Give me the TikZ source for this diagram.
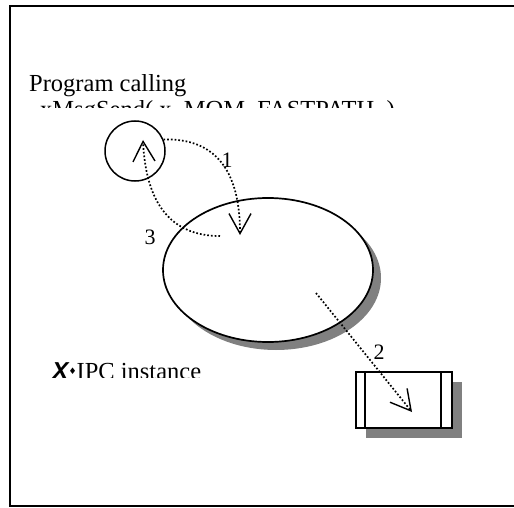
\documentclass[tikz,border=0pt]{standalone}
\usepackage{fontspec}
\setmainfont{Liberation Serif}
\newfontfamily\xsans{Liberation Sans}
\newfontfamily\symfont{DejaVu Sans}
\usetikzlibrary{arrows.meta,shapes.geometric,shadows}
\begin{document}
\begin{tikzpicture}[x=1pt,y=-1pt,
  outline/.style={draw=black,line width=1.7pt,fill=white},
  shade gray/.style={drop shadow={shadow xshift=#1,shadow yshift=-#1,fill=black!50,opacity=1}},
  flow/.style={line width=1.7pt,dash pattern=on 1.7pt off 2pt,
    -{Straight Barb[length=20pt,width=22pt,line width=1.4pt]}},
  numlabel/.style={inner sep=0pt,font=\fontsize{22}{24}\selectfont},
  bigtext/.style={anchor=base west,inner sep=0pt,font=\fontsize{24.5}{27}\selectfont}
]
\useasboundingbox (0,0) rectangle (514,508);
\clip (0,0) rectangle (514,508);

% outer frame, open on the right
\draw[line width=2.2pt] (520,6) -| (10,506) -- (520,506);

% caption of the calling program
\node[bigtext] (caption) at (29,92) {Program calling};
\begin{scope}
  \clip (0,0) rectangle (514,108);
  \node[bigtext] (call) at (40,118) {xMsgSend( x\_MOM\_FASTPATH, )};
\end{scope}

% X-IPC instance label
\begin{scope}
  \clip (0,0) rectangle (514,377);
  \node[bigtext] (inst) at (52,379)
    {{\xsans\bfseries\itshape X}\raisebox{5pt}{\symfont\fontsize{9}{9}\selectfont ♦}IPC instance};
\end{scope}

% shapes
\node[ellipse,outline,shade gray=8pt,minimum width=210pt,minimum height=144pt,inner sep=0pt] (ipc) at (268,270) {};
\node[rectangle,outline,shade gray=10pt,minimum width=96pt,minimum height=56pt,inner sep=0pt] (dev) at (404,400) {};
\draw[line width=1.7pt] ([xshift=10pt]dev.north west) -- ([xshift=10pt]dev.south west);
\draw[line width=1.7pt] ([xshift=-12pt]dev.north east) -- ([xshift=-12pt]dev.south east);
\node[circle,draw=black,line width=1.5pt,minimum size=60pt,inner sep=0pt] (prog) at (135,151) {};

% message flow
\coordinate (t1) at (240,235);
\coordinate (s3) at (220,236);
\coordinate (t3) at (143,140);
\coordinate (s2) at (316,293);
\coordinate (t2) at (412,412);
\draw[flow] (prog.22) .. controls (215,138) and (240,170) .. (t1);
\draw[flow] (s3) .. controls (172,236) and (146,205) .. (t3);
\draw[flow] (s2) -- (t2);

\node[numlabel] (n1) at (227,160) {1};
\node[numlabel] (n3) at (150,237) {3};
\node[numlabel] (n2) at (379,352) {2};
\end{tikzpicture}
\end{document}
